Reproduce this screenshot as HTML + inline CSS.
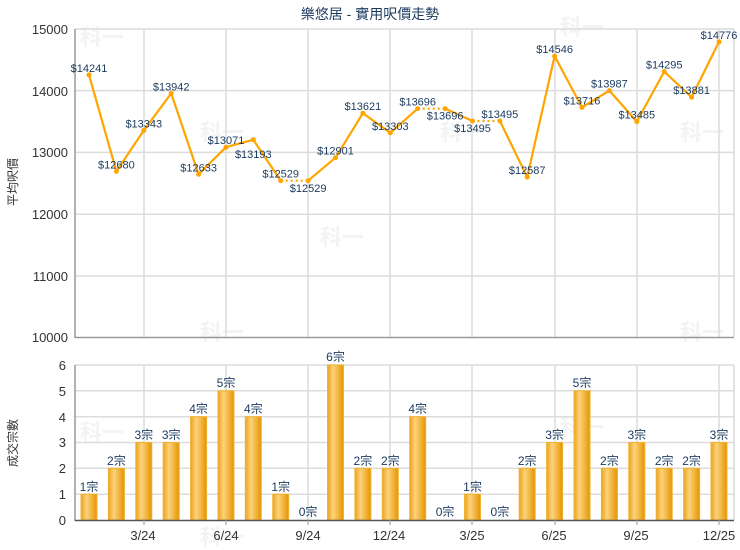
<!DOCTYPE html>
<html><head><meta charset="utf-8"><style>
html,body{margin:0;padding:0;background:#fff;}
svg{display:block;font-family:"Liberation Sans","Noto Sans CJK TC",sans-serif;}
.g{stroke:#dcdcdc;stroke-width:1.5;fill:none}
.yl{font-size:13px;fill:#333;text-anchor:end}
.xl{font-size:13px;fill:#333;text-anchor:middle}
.pl{font-size:11px;fill:#1b3a5e;text-anchor:middle;dominant-baseline:central}
.bl{font-size:12px;fill:#1b3a5e;text-anchor:middle}
.wm{font-size:22px;fill:#f3f3f3;font-weight:bold}
</style></head><body>
<svg width="740" height="550" viewBox="0 0 740 550">
<defs>
<linearGradient id="bg" x1="0" x2="1" y1="0" y2="0">
<stop offset="0" stop-color="#e9a420"/><stop offset="0.35" stop-color="#fdd27a"/><stop offset="0.7" stop-color="#f0b23a"/><stop offset="1" stop-color="#e39400"/>
</linearGradient>
</defs>
<text class="wm" x="80" y="45">科一</text>
<text class="wm" x="200" y="140">科一</text>
<text class="wm" x="200" y="340">科一</text>
<text class="wm" x="320" y="245">科一</text>
<text class="wm" x="440" y="140">科一</text>
<text class="wm" x="560" y="35">科一</text>
<text class="wm" x="680" y="140">科一</text>
<text class="wm" x="80" y="440">科一</text>
<text class="wm" x="200" y="545">科一</text>
<text class="wm" x="560" y="435">科一</text>
<text class="wm" x="680" y="340">科一</text>

<text x="370" y="19" style="font-size:14px;fill:#1b3a5e;text-anchor:middle">樂悠居 - 實用呎價走勢</text>

<g class="g">
<line x1="75" y1="29" x2="734" y2="29"/><line x1="75" y1="90.6" x2="734" y2="90.6"/>
<line x1="75" y1="152.4" x2="734" y2="152.4"/><line x1="75" y1="214.2" x2="734" y2="214.2"/>
<line x1="75" y1="276" x2="734" y2="276"/>
<line x1="144" y1="29" x2="144" y2="337"/><line x1="226" y1="29" x2="226" y2="337"/>
<line x1="308" y1="29" x2="308" y2="337"/><line x1="390" y1="29" x2="390" y2="337"/>
<line x1="472" y1="29" x2="472" y2="337"/><line x1="555" y1="29" x2="555" y2="337"/>
<line x1="637" y1="29" x2="637" y2="337"/><line x1="719" y1="29" x2="719" y2="337"/>
<line x1="734" y1="29" x2="734" y2="337"/>
</g>
<line x1="75" y1="29" x2="75" y2="338" stroke="#999" stroke-width="1.5"/>
<line x1="75" y1="337.5" x2="734" y2="337.5" stroke="#999" stroke-width="1.5"/>
<text class="yl" x="68" y="34">15000</text>
<text class="yl" x="68" y="96">14000</text>
<text class="yl" x="68" y="157">13000</text>
<text class="yl" x="68" y="219">12000</text>
<text class="yl" x="68" y="281">11000</text>
<text class="yl" x="68" y="342">10000</text>
<text transform="translate(17,182) rotate(-90)" style="font-size:12px;fill:#333;text-anchor:middle">平均呎價</text>

<g stroke="#ffa500" stroke-width="2.2" fill="none" stroke-linejoin="round">
<polyline points="89,74.9 116.4,171.4 143.8,130.4 171.2,93.4 198.6,174.3 226,147.2 253.3,139.7 280.7,180.7"/>
<polyline points="308.1,180.7 335.5,157.7 362.9,113.2 390.3,132.9 417.7,108.6"/>
<polyline points="445.1,108.6 472.5,121"/>
<polyline points="499.9,121 527.2,177.1 554.6,56.1 582,107.4 609.4,90.6 636.8,121.6 664.2,71.6 691.6,97.2 719,41.8"/>
</g>
<g stroke="#ffa500" stroke-width="2.2" stroke-dasharray="2,3">
<line x1="280.7" y1="180.7" x2="308.1" y2="180.7"/>
<line x1="417.7" y1="108.6" x2="445.1" y2="108.6"/>
<line x1="472.5" y1="121" x2="499.9" y2="121"/>
</g>
<g fill="#ffa500">
<circle cx="89" cy="74.9" r="2.5"/><circle cx="116.4" cy="171.4" r="2.5"/><circle cx="143.8" cy="130.4" r="2.5"/><circle cx="171.2" cy="93.4" r="2.5"/><circle cx="198.6" cy="174.3" r="2.5"/><circle cx="226" cy="147.2" r="2.5"/><circle cx="253.3" cy="139.7" r="2.5"/><circle cx="280.7" cy="180.7" r="2.5"/><circle cx="308.1" cy="180.7" r="2.5"/><circle cx="335.5" cy="157.7" r="2.5"/><circle cx="362.9" cy="113.2" r="2.5"/><circle cx="390.3" cy="132.9" r="2.5"/><circle cx="417.7" cy="108.6" r="2.5"/><circle cx="445.1" cy="108.6" r="2.5"/><circle cx="472.5" cy="121" r="2.5"/><circle cx="499.9" cy="121" r="2.5"/><circle cx="527.2" cy="177.1" r="2.5"/><circle cx="554.6" cy="56.1" r="2.5"/><circle cx="582" cy="107.4" r="2.5"/><circle cx="609.4" cy="90.6" r="2.5"/><circle cx="636.8" cy="121.6" r="2.5"/><circle cx="664.2" cy="71.6" r="2.5"/><circle cx="691.6" cy="97.2" r="2.5"/><circle cx="719" cy="41.8" r="2.5"/>
</g>
<g class="pl">
<text x="89" y="69">$14241</text>
<text x="116.4" y="165.4">$12680</text>
<text x="143.8" y="124.4">$13343</text>
<text x="171.2" y="87.4">$13942</text>
<text x="198.6" y="168.3">$12633</text>
<text x="226" y="141.2">$13071</text>
<text x="253.3" y="155">$13193</text>
<text x="280.7" y="174.7">$12529</text>
<text x="308.1" y="189">$12529</text>
<text x="335.5" y="151.7">$12901</text>
<text x="362.9" y="107.2">$13621</text>
<text x="390.3" y="126.9">$13303</text>
<text x="417.7" y="102.6">$13696</text>
<text x="445.1" y="116.6">$13696</text>
<text x="472.5" y="129">$13495</text>
<text x="499.9" y="115">$13495</text>
<text x="527.2" y="171.1">$12587</text>
<text x="554.6" y="50.1">$14546</text>
<text x="582" y="101.4">$13716</text>
<text x="609.4" y="84.6">$13987</text>
<text x="636.8" y="115.6">$13485</text>
<text x="664.2" y="65.6">$14295</text>
<text x="691.6" y="91.2">$13881</text>
<text x="719" y="35.8">$14776</text>
</g>

<g class="g">
<line x1="75" y1="365" x2="734" y2="365"/><line x1="75" y1="390.8" x2="734" y2="390.8"/>
<line x1="75" y1="416.7" x2="734" y2="416.7"/><line x1="75" y1="442.5" x2="734" y2="442.5"/>
<line x1="75" y1="468.3" x2="734" y2="468.3"/><line x1="75" y1="494.2" x2="734" y2="494.2"/>
<line x1="144" y1="365" x2="144" y2="520"/><line x1="226" y1="365" x2="226" y2="520"/>
<line x1="308" y1="365" x2="308" y2="520"/><line x1="390" y1="365" x2="390" y2="520"/>
<line x1="472" y1="365" x2="472" y2="520"/><line x1="555" y1="365" x2="555" y2="520"/>
<line x1="637" y1="365" x2="637" y2="520"/><line x1="719" y1="365" x2="719" y2="520"/>
<line x1="734" y1="365" x2="734" y2="520"/>
</g>
<g fill="url(#bg)" stroke="#f2b12f" stroke-width="1">
<rect x="81" y="494.2" width="16" height="25.8"/>
<rect x="108.4" y="468.3" width="16" height="51.7"/>
<rect x="135.8" y="442.5" width="16" height="77.5"/>
<rect x="163.2" y="442.5" width="16" height="77.5"/>
<rect x="190.6" y="416.7" width="16" height="103.3"/>
<rect x="218" y="390.8" width="16" height="129.2"/>
<rect x="245.3" y="416.7" width="16" height="103.3"/>
<rect x="272.7" y="494.2" width="16" height="25.8"/>
<rect x="327.5" y="365" width="16" height="155"/>
<rect x="354.9" y="468.3" width="16" height="51.7"/>
<rect x="382.3" y="468.3" width="16" height="51.7"/>
<rect x="409.7" y="416.7" width="16" height="103.3"/>
<rect x="464.5" y="494.2" width="16" height="25.8"/>
<rect x="519.2" y="468.3" width="16" height="51.7"/>
<rect x="546.6" y="442.5" width="16" height="77.5"/>
<rect x="574" y="390.8" width="16" height="129.2"/>
<rect x="601.4" y="468.3" width="16" height="51.7"/>
<rect x="628.8" y="442.5" width="16" height="77.5"/>
<rect x="656.2" y="468.3" width="16" height="51.7"/>
<rect x="683.6" y="468.3" width="16" height="51.7"/>
<rect x="711" y="442.5" width="16" height="77.5"/>
</g>
<line x1="75" y1="365" x2="75" y2="521" stroke="#999" stroke-width="1.5"/>
<line x1="75" y1="520.5" x2="734" y2="520.5" stroke="#555" stroke-width="1.5"/>
<g stroke="#999"><line x1="144" y1="520" x2="144" y2="525"/><line x1="226" y1="520" x2="226" y2="525"/><line x1="308" y1="520" x2="308" y2="525"/><line x1="390" y1="520" x2="390" y2="525"/><line x1="472" y1="520" x2="472" y2="525"/><line x1="555" y1="520" x2="555" y2="525"/><line x1="637" y1="520" x2="637" y2="525"/><line x1="719" y1="520" x2="719" y2="525"/></g>
<text class="yl" x="66" y="370">6</text>
<text class="yl" x="66" y="396">5</text>
<text class="yl" x="66" y="422">4</text>
<text class="yl" x="66" y="447">3</text>
<text class="yl" x="66" y="473">2</text>
<text class="yl" x="66" y="499">1</text>
<text class="yl" x="66" y="525">0</text>
<text transform="translate(17,443) rotate(-90)" style="font-size:12px;fill:#333;text-anchor:middle">成交宗數</text>
<g class="bl">
<text x="89" y="491">1宗</text>
<text x="116.4" y="465">2宗</text>
<text x="143.8" y="439">3宗</text>
<text x="171.2" y="439">3宗</text>
<text x="198.6" y="413">4宗</text>
<text x="226" y="387">5宗</text>
<text x="253.3" y="413">4宗</text>
<text x="280.7" y="491">1宗</text>
<text x="308.1" y="516">0宗</text>
<text x="335.5" y="361">6宗</text>
<text x="362.9" y="465">2宗</text>
<text x="390.3" y="465">2宗</text>
<text x="417.7" y="413">4宗</text>
<text x="445.1" y="516">0宗</text>
<text x="472.5" y="491">1宗</text>
<text x="499.9" y="516">0宗</text>
<text x="527.2" y="465">2宗</text>
<text x="554.6" y="439">3宗</text>
<text x="582" y="387">5宗</text>
<text x="609.4" y="465">2宗</text>
<text x="636.8" y="439">3宗</text>
<text x="664.2" y="465">2宗</text>
<text x="691.6" y="465">2宗</text>
<text x="719" y="439">3宗</text>
</g>
<g class="xl">
<text x="143" y="540">3/24</text>
<text x="226" y="540">6/24</text>
<text x="308" y="540">9/24</text>
<text x="389" y="540">12/24</text>
<text x="472" y="540">3/25</text>
<text x="554" y="540">6/25</text>
<text x="636" y="540">9/25</text>
<text x="719" y="540">12/25</text>
</g>
</svg>
</body></html>
